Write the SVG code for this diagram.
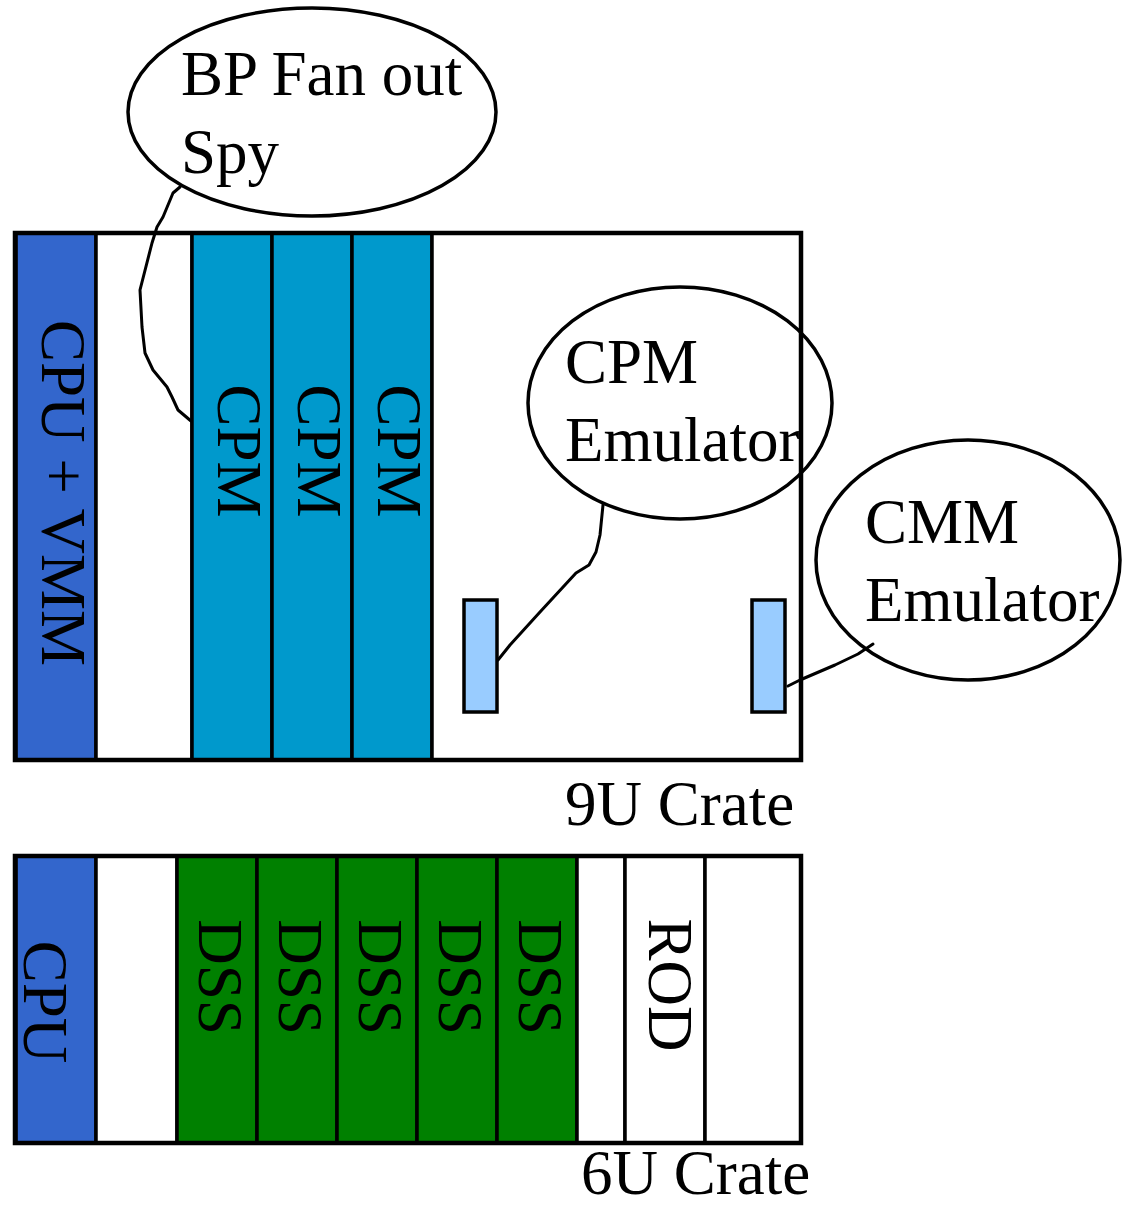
<svg xmlns="http://www.w3.org/2000/svg" width="1131" height="1205" viewBox="0 0 1131 1205">
<style>
.t{font-family:"Liberation Serif","Times New Roman",serif;font-size:63px;fill:#000}
.slot{stroke:#000;stroke-width:3.5}
.crate{fill:none;stroke:#000;stroke-width:4.5}
.cpu{fill:#3366CC}
.cpm{fill:#0099CC}
.dss{fill:#008000}
.wh{fill:#FFFFFF}
.emu{fill:#99CCFF;stroke:#000;stroke-width:3.5}
.bub{fill:none;stroke:#000;stroke-width:3.5}
.con{fill:none;stroke:#000;stroke-width:3;stroke-linejoin:round;stroke-linecap:round}
</style>
<rect width="1131" height="1205" fill="#FFFFFF"/>

<g id="crate9U">
  <rect x="15" y="233" width="786" height="527" fill="#FFFFFF"/>
  <g id="slot-cpu-vmm">
    <rect class="slot cpu" x="16" y="233" width="80" height="527"/>
    <text class="t" text-anchor="middle" transform="translate(42,493) rotate(90)">CPU + VMM</text>
  </g>
  <rect class="slot wh" x="96" y="233" width="96" height="527"/>
  <g id="slot-cpm1">
    <rect class="slot cpm" x="192" y="233" width="80" height="527"/>
    <text class="t" text-anchor="middle" transform="translate(218,451) rotate(90)">CPM</text>
  </g>
  <g id="slot-cpm2">
    <rect class="slot cpm" x="272" y="233" width="80" height="527"/>
    <text class="t" text-anchor="middle" transform="translate(298,451) rotate(90)">CPM</text>
  </g>
  <g id="slot-cpm3">
    <rect class="slot cpm" x="352" y="233" width="80" height="527"/>
    <text class="t" text-anchor="middle" transform="translate(378,451) rotate(90)">CPM</text>
  </g>
  <rect class="slot wh" x="432" y="233" width="369" height="527"/>
  <g id="cpm-emu-card"><rect class="emu" x="464" y="600" width="33" height="112"/></g>
  <g id="cmm-emu-card"><rect class="emu" x="752" y="600" width="33" height="112"/></g>
  <rect class="crate" x="15" y="233" width="786" height="527"/>
  <text class="t" x="565" y="825">9U Crate</text>
</g>

<g id="crate6U">
  <rect x="15" y="856" width="786" height="287" fill="#FFFFFF"/>
  <g id="slot-cpu">
    <rect class="slot cpu" x="16" y="856" width="80" height="287"/>
    <text class="t" text-anchor="middle" transform="translate(24,1002) rotate(90)">CPU</text>
  </g>
  <rect class="slot wh" x="96" y="856" width="81" height="287"/>
  <g id="slot-dss1">
    <rect class="slot dss" x="177" y="856" width="80" height="287"/>
    <text class="t" text-anchor="middle" transform="translate(199,977) rotate(90)">DSS</text>
  </g>
  <g id="slot-dss2">
    <rect class="slot dss" x="257" y="856" width="80" height="287"/>
    <text class="t" text-anchor="middle" transform="translate(279,977) rotate(90)">DSS</text>
  </g>
  <g id="slot-dss3">
    <rect class="slot dss" x="337" y="856" width="80" height="287"/>
    <text class="t" text-anchor="middle" transform="translate(359,977) rotate(90)">DSS</text>
  </g>
  <g id="slot-dss4">
    <rect class="slot dss" x="417" y="856" width="80" height="287"/>
    <text class="t" text-anchor="middle" transform="translate(439,977) rotate(90)">DSS</text>
  </g>
  <g id="slot-dss5">
    <rect class="slot dss" x="497" y="856" width="80" height="287"/>
    <text class="t" text-anchor="middle" transform="translate(519,977) rotate(90)">DSS</text>
  </g>
  <rect class="slot wh" x="577" y="856" width="48" height="287"/>
  <g id="slot-rod">
    <rect class="slot wh" x="625" y="856" width="80" height="287"/>
    <text class="t" text-anchor="middle" transform="translate(649,985) rotate(90)">ROD</text>
  </g>
  <rect class="slot wh" x="705" y="856" width="96" height="287"/>
  <rect class="crate" x="15" y="856" width="786" height="287"/>
  <text class="t" x="581" y="1194">6U Crate</text>
</g>

<g id="bubble-bp-spy">
  <ellipse class="bub" cx="312" cy="112" rx="184" ry="104"/>
  <text class="t" x="181" y="95">BP Fan out</text>
  <text class="t" x="181" y="173">Spy</text>
</g>

<g id="bubble-cpm-emulator">
  <ellipse class="bub" cx="680" cy="403" rx="152" ry="116"/>
  <text class="t" x="565" y="383">CPM</text>
  <text class="t" x="565" y="461">Emulator</text>
</g>

<g id="bubble-cmm-emulator">
  <ellipse class="bub" cx="968" cy="560" rx="152" ry="120"/>
  <text class="t" x="865" y="543">CMM</text>
  <text class="t" x="865" y="621">Emulator</text>
</g>

<g id="connectors">
  <path class="con" d="M180,187 L173,193 L163,217 L157,227 L152,243 L140,290 L142,327 L145,353 L153,370 L167,387 L172,397 L178,410 L191,421"/>
  <path class="con" d="M603,505 L600,535 L596,552 L589,565 L576,573 L540,612 L510,645 L498,660"/>
  <path class="con" d="M873,644 L858,654 L835,665 L800,680 L788,686"/>
</g>
</svg>
